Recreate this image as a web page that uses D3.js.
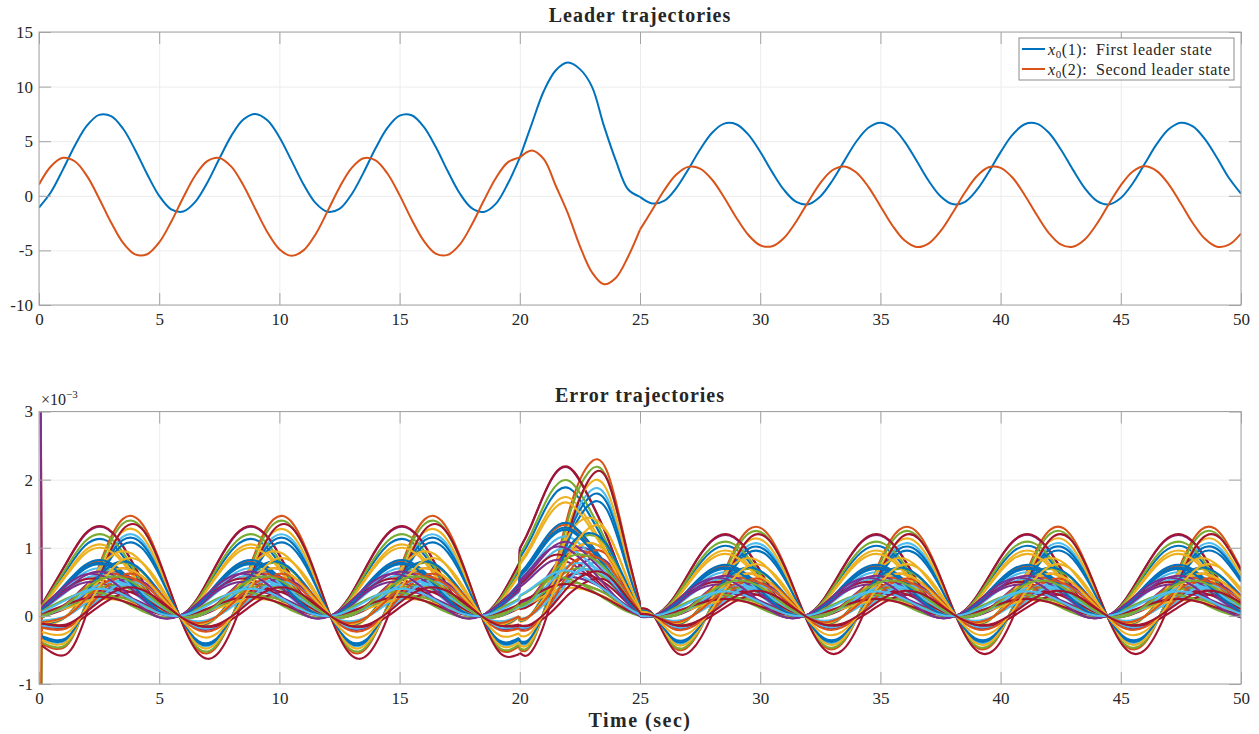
<!DOCTYPE html>
<html lang="en">
<head>
<meta charset="UTF-8">
<script src="https://d3js.org/d3.v7.min.js"></script>
<title>Leader and error trajectories</title>
<style>
  body { margin: 0; background: #fff; }
  svg text { font-family: "Liberation Serif", "DejaVu Serif", serif !important; fill: #262626; }
</style>
</head>
<body>
<svg id="chart" width="1259" height="734" font-family="Liberation Serif, DejaVu Serif, serif"></svg>
<script>

// ---- leader states, one sample every 0.5 s from 0 to 50 s
const leaderTime = d3.range(0, 50.001, 0.5);
const leaderX1 = [
  -1.07, 0.35, 2.42, 4.63, 6.44, 7.41, 7.30, 6.14, 4.20, 1.98,
  0.00, -1.24, -1.44, -0.56, 1.20, 3.39, 5.49, 6.98, 7.50, 6.91,
  5.37, 3.24, 1.06, -0.65, -1.46, -1.20, 0.12, 2.12, 4.35, 6.24,
  7.34, 7.38, 6.34, 4.49, 2.27, 0.23, -1.13, -1.48, -0.74, 1.10,
  3.50, 6.60, 9.60, 11.50, 12.20, 11.60, 10.00, 6.40, 3.20, 0.60, -0.10,
  -0.70, -0.47, 0.68, 2.39, 4.24, 5.77, 6.61, 6.55, 5.62, 4.03,
  2.17, 0.51, -0.56, -0.77, -0.06, 1.38, 3.20, 4.97, 6.23, 6.70,
  6.25, 4.99, 3.23, 1.40, -0.04, -0.76, -0.57, 0.51, 2.15, 4.00,
  5.60, 6.55, 6.61, 5.79, 4.26, 2.42, 0.70, -0.46, -0.79, -0.20,
  1.15, 2.95, 4.75, 6.11, 6.69, 6.36, 5.19, 3.48, 1.63, 0.20
];
const leaderX2 = [
  1.04, 2.71, 3.48, 3.14, 1.80, -0.24, -2.45, -4.32, -5.37, -5.35,
  -4.27, -2.38, -0.16, 1.86, 3.17, 3.47, 2.67, 0.97, -1.21, -3.33,
  -4.89, -5.50, -5.00, -3.54, -1.43, 0.77, 2.54, 3.44, 3.25, 2.02,
  0.06, -2.17, -4.11, -5.29, -5.41, -4.47, -2.66, -0.46, 1.61, 3.06,
  3.50, 4.15, 3.35, 0.90, -1.60, -4.60, -7.00, -8.10, -7.50, -5.60, -3.10,
  -1.33, 0.48, 1.92, 2.65, 2.49, 1.47, -0.15, -1.98, -3.57, -4.53,
  -4.62, -3.84, -2.35, -0.54, 1.17, 2.34, 2.69, 2.14, 0.82, -0.95,
  -2.72, -4.08, -4.69, -4.38, -3.24, -1.57, 0.25, 1.77, 2.61, 2.56,
  1.65, 0.08, -1.74, -3.39, -4.45, -4.67, -4.00, -2.58, -0.77, 0.96,
  2.23, 2.70, 2.26, 1.03, -0.70, -2.51, -3.94, -4.66, -4.48, -3.46
];
const leaderNames = ["First leader state", "Second leader state"];

// ---- error trajectories (x1e-3): keypoint times of the three phases (0-20, 20-25, 25-50 s)
const errT1 = [0.12, 1.13, 1.91, 2.70, 3.48, 4.27, 5.05, 5.84, 6.63, 7.41, 8.20, 8.98, 9.77,
  10.55, 11.34, 12.12, 12.91, 13.69, 14.48, 15.26, 16.05, 16.83, 17.62, 18.40, 19.19, 19.97];
const errT2 = [20.0, 20.49, 21.27, 22.06, 22.85, 23.63, 24.42, 25.0];
const errT3 = [25.0, 25.58, 26.37, 27.15, 27.94, 28.72, 29.51, 30.29, 31.08, 31.86, 32.65,
  33.43, 34.22, 35.00, 35.79, 36.57, 37.36, 38.14, 38.93, 39.72, 40.50, 41.29, 42.07,
  42.86, 43.64, 44.43, 45.21, 46.00, 46.78, 47.57, 48.35, 49.14, 50.0];

// a cycle runs between the common crossing points where every error is zero
const errStart1 = [0.207, 0.124, 0.050, -0.034, -0.162, -0.278, -0.323];
const errCycle = [
  [0.317, 0.723, 0.978, 0.935, 0.617, 0.212, -0.044],
  [0.209, 0.586, 0.910, 0.992, 0.783, 0.406, 0.081],
  [0.111, 0.449, 0.816, 0.998, 0.887, 0.549, 0.181],
  [-0.003, 0.277, 0.675, 0.959, 0.962, 0.682, 0.284],
  [-0.179, -0.012, 0.402, 0.821, 1.000, 0.833, 0.419],
  [-0.342, -0.301, 0.099, 0.624, 0.966, 0.925, 0.525],
  [-0.406, -0.418, -0.030, 0.532, 0.938, 0.950, 0.562]
];
const errShape2 = [
  [0.50, 0.68, 0.95, 0.93, 0.70, 0.40, 0.12, 0.00],
  [0.45, 0.61, 0.90, 0.99, 0.80, 0.53, 0.20, 0.03],
  [0.32, 0.47, 0.80, 0.98, 0.88, 0.63, 0.27, 0.04],
  [0.15, 0.26, 0.62, 0.93, 0.94, 0.72, 0.33, 0.05],
  [-0.06, 0.02, 0.38, 0.82, 0.98, 0.84, 0.40, 0.06],
  [-0.22, -0.18, 0.18, 0.68, 0.97, 0.93, 0.45, 0.08],
  [-0.26, -0.25, 0.08, 0.60, 0.95, 0.96, 0.48, 0.09]
];
const errStart3 = [-0.02, 0.00, 0.02, 0.04, 0.06, 0.08, 0.09];

// one entry per error signal: family and peak height in each phase
const errClass = [1, 5, 1, 1, 5, 5, 1, 5, 1, 5, 3, 1, 1, 6, 5, 3, 4, 5, 4, 1, 0,
                  1, 2, 1, 0, 3, 4, 3, 4, 4, 2, 2, 2, 5, 6, 1, 5, 4, 1, 0, 3, 1,
                  1, 4, 5, 0, 3, 1, 5];
const errPeak1 = [1.13, 1.47, 1.05, 1.31, 1.40, 1.20, 1.32, 1.15, 0.80, 1.28, 0.65, 1.20, 0.70, 1.35,
                  1.08, 0.62, 0.95, 0.55, 0.78, 0.60, 0.55, 0.82, 0.30, 1.00, 0.50, 0.45, 0.45, 0.40,
                  0.80, 0.70, 0.25, 0.35, 0.30, 0.50, 0.35, 0.78, 0.62, 0.70, 0.65, 0.35, 0.50, 0.28,
                  0.76, 0.58, 0.85, 0.62, 0.58, 0.40, 0.42];
const errPeak2 = [1.89, 2.28, 1.75, 2.19, 2.17, 1.86, 2.20, 1.78, 1.34, 1.98, 1.04, 2.00, 1.17, 2.09,
                  1.67, 0.99, 1.47, 0.85, 1.21, 1.00, 0.92, 1.37, 0.50, 1.67, 0.84, 0.72, 0.70, 0.64,
                  1.24, 1.09, 0.42, 0.58, 0.50, 0.78, 0.54, 1.30, 0.96, 1.09, 1.09, 0.58, 0.80, 0.47,
                  1.27, 0.90, 1.32, 1.04, 0.93, 0.67, 0.65];
const errPeak3 = [1.03, 1.31, 0.96, 1.19, 1.25, 1.07, 1.20, 1.02, 0.73, 1.14, 0.59, 1.09, 0.64, 1.20,
                  0.96, 0.56, 0.85, 0.49, 0.69, 0.55, 0.50, 0.75, 0.27, 0.91, 0.46, 0.41, 0.40, 0.36,
                  0.71, 0.62, 0.23, 0.32, 0.27, 0.45, 0.31, 0.71, 0.55, 0.62, 0.59, 0.32, 0.45, 0.25,
                  0.69, 0.52, 0.76, 0.56, 0.52, 0.36, 0.37];
// signals whose initial error is far off the axis range
const errSpikeLines = [1, 3, 4, 8];
const errSpikeInit = [9, 7, -6, -5];

const xTicks = d3.range(0, 51, 5);
const topTicks = [-10, -5, 0, 5, 10, 15];
const botTicks = [-1, 0, 1, 2, 3];

const palette = ["#0072BD", "#D95319", "#EDB120", "#7E2F8E", "#77AC30", "#4DBEEE", "#A2142F"];
const color = d3.scaleOrdinal().domain(d3.range(7)).range(palette);

const serif = "Liberation Serif, DejaVu Serif, serif";
const svg = d3.select("svg#chart");
const left = 39, right = 1241;
const axisColor = "#a3a3a3", gridColor = "#ececec";

const x = d3.scaleLinear().domain([0, 50]).range([left, right]);
const yTop = d3.scaleLinear().domain([-10, 15]).range([305, 32]);
const yBot = d3.scaleLinear().domain([-1, 3]).range([684, 411.5]);

function grid(yScale, yTicks) {
  const [yb, yt] = yScale.range();
  const g = svg.append("g");
  g.append("g").attr("transform", `translate(0,${yb})`)
    .call(d3.axisBottom(x).tickValues(xTicks).tickSize(-(yb - yt)).tickFormat(""))
    .call(s => s.select(".domain").remove())
    .selectAll("line").attr("stroke", gridColor);
  g.append("g").attr("transform", `translate(${left},0)`)
    .call(d3.axisLeft(yScale).tickValues(yTicks).tickSize(-(right - left)).tickFormat(""))
    .call(s => s.select(".domain").remove())
    .selectAll("line").attr("stroke", gridColor);
}

function axes(yScale, yTicks) {
  const [yb, yt] = yScale.range();
  const g = svg.append("g");
  const style = s => {
    s.select(".domain").remove();
    s.selectAll("line").attr("stroke", axisColor);
    s.attr("font-size", 17).attr("font-family", serif);
    s.selectAll("text").attr("fill", "#262626").attr("font-family", serif);
  };
  g.append("g").attr("transform", `translate(0,${yb})`)
    .call(d3.axisBottom(x).tickValues(xTicks).tickSize(-12).tickPadding(8).tickFormat(d => d))
    .call(style);
  g.append("g").attr("transform", `translate(0,${yt})`)
    .call(d3.axisTop(x).tickValues(xTicks).tickSize(-12).tickFormat(""))
    .call(style);
  g.append("g").attr("transform", `translate(${left},0)`)
    .call(d3.axisLeft(yScale).tickValues(yTicks).tickSize(-12).tickPadding(6).tickFormat(d => String(d)))
    .call(style);
  g.append("g").attr("transform", `translate(${right},0)`)
    .call(d3.axisRight(yScale).tickValues(yTicks).tickSize(-12).tickFormat(""))
    .call(style);
  g.append("rect")
    .attr("x", left).attr("y", yt)
    .attr("width", right - left).attr("height", yb - yt)
    .attr("fill", "none").attr("stroke", axisColor).attr("stroke-width", 1);
}

function clip(id, yScale) {
  const [yb, yt] = yScale.range();
  svg.append("clipPath").attr("id", id)
    .append("rect").attr("x", left).attr("y", yt)
    .attr("width", right - left).attr("height", yb - yt);
}

// ---------------- top panel
grid(yTop, topTicks);
clip("clipTop", yTop);

const leaderLine = d3.line()
  .x(d => x(d[0]))
  .y(d => yTop(d[1]))
  .curve(d3.curveCatmullRom.alpha(0.5));

const leaderArea = svg.append("g").attr("clip-path", "url(#clipTop)");
[leaderX1, leaderX2].forEach((vals, k) => {
  const pts = leaderTime.map((t, i) => [t, vals[i]]);
  // the leader switches its dynamics at 20 s and 25 s
  [pts.slice(0, 41), pts.slice(40, 51), pts.slice(50)].forEach(part => {
    leaderArea.append("path")
      .datum(part)
      .attr("fill", "none")
      .attr("stroke", color(k))
      .attr("stroke-width", 2)
      .attr("d", leaderLine);
  });
});
axes(yTop, topTicks);

svg.append("text")
  .attr("x", 640).attr("y", 22)
  .attr("text-anchor", "middle")
  .attr("font-family", serif)
  .attr("font-size", 20).attr("font-weight", "bold")
  .attr("letter-spacing", 1)
  .text("Leader trajectories");

// legend
const legend = svg.append("g");
legend.append("rect")
  .attr("x", 1019).attr("y", 38).attr("width", 215).attr("height", 42)
  .attr("fill", "#fff").attr("stroke", "#8c8c8c");
leaderNames.forEach((name, k) => {
  const yy = 49 + k * 20;
  legend.append("line")
    .attr("x1", 1022).attr("x2", 1045).attr("y1", yy).attr("y2", yy)
    .attr("stroke", color(k)).attr("stroke-width", 2);
  const t = legend.append("text")
    .attr("x", 1048).attr("y", yy + 5.5)
    .attr("font-family", serif)
    .attr("font-size", 16).attr("letter-spacing", 0.6);
  t.append("tspan").attr("font-style", "italic").text("x");
  t.append("tspan").attr("font-size", 11).attr("dy", 3).text("0");
  t.append("tspan").attr("dy", -3).text(`(${k + 1}):\u2002${name}`);
});

// ---------------- bottom panel
grid(yBot, botTicks);
clip("clipBot", yBot);

const errLine = d3.line()
  .x(d => x(d[0]))
  .y(d => yBot(d[1]))
  .curve(d3.curveNatural);
const straight = d3.line()
  .x(d => x(d[0]))
  .y(d => yBot(d[1]));

const errArea = svg.append("g").attr("clip-path", "url(#clipBot)");
errClass.forEach((c, i) => {
  const cyc = errCycle[c];
  const v1 = [errStart1[c], ...cyc.slice(1), 0, ...cyc, 0, ...cyc, 0, cyc[0], cyc[1]]
    .map(v => v * errPeak1[i]);
  const v2 = errShape2[c].map(v => v * errPeak2[i]);
  const v3 = [errStart3[c], 0, ...cyc, 0, ...cyc, 0, ...cyc, 0, ...cyc]
    .map(v => v * errPeak3[i]);
  const p1 = errT1.map((t, j) => [t, v1[j]]);
  const p2 = errT2.map((t, j) => [t, v2[j]]);
  const p3 = errT3.map((t, j) => [t, v3[j]]);

  const g = errArea.append("g")
    .attr("fill", "none")
    .attr("stroke", color(i % 7))
    .attr("stroke-width", 2.1)
    .attr("stroke-linejoin", "round");
  [p1, p2, p3].forEach(part => g.append("path").datum(part).attr("d", errLine));
  // jumps at the switching instants
  g.append("path").datum([p1[p1.length - 1], p2[0]]).attr("d", straight);
  g.append("path").datum([p2[p2.length - 1], p3[0]]).attr("d", straight);
  const s = errSpikeLines.indexOf(i);
  if (s >= 0) {
    g.append("path").datum([[0, errSpikeInit[s]], p1[0]]).attr("d", straight);
  }
});
axes(yBot, botTicks);

svg.append("text")
  .attr("x", 640).attr("y", 402)
  .attr("text-anchor", "middle")
  .attr("font-family", serif)
  .attr("font-size", 20).attr("font-weight", "bold")
  .attr("letter-spacing", 1)
  .text("Error trajectories");

const expo = svg.append("text")
  .attr("x", 41).attr("y", 405)
  .attr("font-family", serif)
  .attr("font-size", 16);
expo.append("tspan").text("\u00d710");
expo.append("tspan").attr("font-size", 11).attr("dy", -7).text("\u22123");

svg.append("text")
  .attr("x", 640).attr("y", 727)
  .attr("text-anchor", "middle")
  .attr("font-family", serif)
  .attr("font-size", 20).attr("font-weight", "bold")
  .attr("letter-spacing", 1.5)
  .text("Time (sec)");

</script>
</body>
</html>
